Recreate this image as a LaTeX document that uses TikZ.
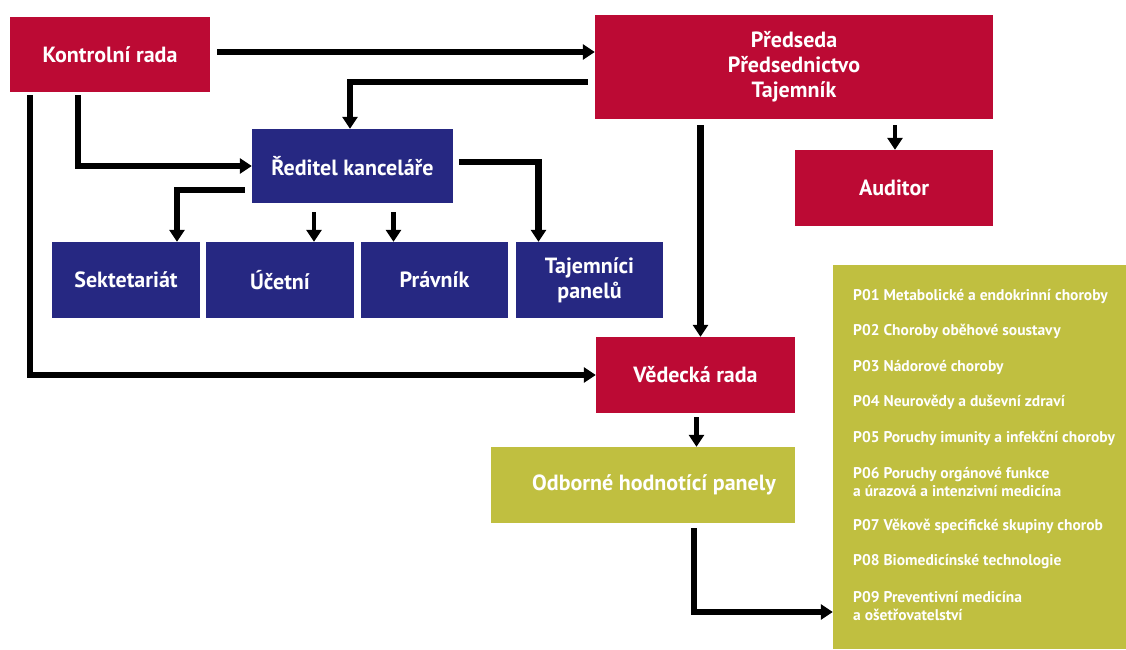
\documentclass[tikz,border=0pt]{standalone}
\usepackage{fontspec}
\setmainfont{PT Sans}
\usetikzlibrary{arrows.meta,calc}
\definecolor{cred}{RGB}{188,10,52}
\definecolor{cblue}{RGB}{38,40,130}
\definecolor{colive}{RGB}{192,191,64}
\begin{document}
\begin{tikzpicture}[x=1pt,y=-1pt,
  box/.style={rectangle,inner sep=0pt,text=white,align=center,
    font=\bfseries\fontsize{22}{25}\selectfont},
  redbox/.style={box,fill=cred},
  bluebox/.style={box,fill=cblue},
  olivebox/.style={box,fill=colive},
  item/.style={anchor=west,inner sep=0pt,text=white,align=left,
    font=\bfseries\fontsize{15.5}{18}\selectfont},
  arr/.style={line width=6.5pt,line join=miter,-{Triangle[length=12pt,width=15pt]}},
  arrs/.style={line width=4.6pt,-{Triangle[length=12pt,width=15pt]}},
]
\useasboundingbox (0,0) rectangle (1126,649);

% boxes
\node[redbox,minimum width=200pt,minimum height=75pt] (kr) at (110,54.5) {Kontrolní rada};
\node[redbox,minimum width=398pt,minimum height=104pt] (pre) at (794,67) {Předseda\\Předsednictvo\\Tajemník};
\node[bluebox,minimum width=201pt,minimum height=74pt] (red) at (352.5,166) {Ředitel kanceláře};
\node[bluebox,minimum width=148pt,minimum height=76pt] (sek) at (126,280) {Sektetariát};
\node[bluebox,minimum width=148pt,minimum height=76pt] (uce) at (280,280) {Účetní};
\node[bluebox,minimum width=147pt,minimum height=76pt] (prv) at (434.5,280) {Právník};
\node[bluebox,minimum width=147pt,minimum height=76pt] (taj) at (589.5,280) {Tajemníci\\panelů};
\node[redbox,minimum width=198pt,minimum height=76pt] (aud) at (894,188) {Auditor};
\node[redbox,minimum width=199pt,minimum height=76pt] (ved) at (695.5,375) {Vědecká rada};
\node[olivebox,minimum width=304pt,minimum height=76pt] (odb) at (643,485) {};
\node[box] (odbt) at (654,485) {Odborné hodnotící panely};
\node[olivebox,minimum width=293pt,minimum height=384pt] (grn) at (979.5,457) {};

% panel list
\node[item] (p1) at (853,296) {P01 Metabolické a endokrinní choroby};
\node[item] (p2) at (853,331.5) {P02 Choroby oběhové soustavy};
\node[item] (p3) at (853,367) {P03 Nádorové choroby};
\node[item] (p4) at (853,402.5) {P04 Neurovědy a duševní zdraví};
\node[item] (p5) at (853,438) {P05 Poruchy imunity a infekční choroby};
\node[item] (p6) at (853,482) {P06 Poruchy orgánové funkce\\a úrazová a intenzivní medicína};
\node[item] (p7) at (853,526.5) {P07 Věkově specifické skupiny chorob};
\node[item] (p8) at (853,562) {P08 Biomedicínské technologie};
\node[item] (p9) at (853,606) {P09 Preventivní medicína\\a ošetřovatelství};

% connectors
\draw[arr] ([xshift=7pt,yshift=2.5pt]kr.east) -- ([yshift=2.5pt]kr.east -| pre.west);
\draw[arr] ([xshift=-7pt,yshift=-15pt]pre.west) -| ([xshift=-2.5pt]red.north);
\draw[arr] ([xshift=-32pt,yshift=-3pt]kr.south) |- (red.west);
\draw[arr] ([xshift=-80pt,yshift=-3pt]kr.south) |- (ved.west);
\draw[arr] ([xshift=-7pt,yshift=-24pt]red.west) -| ([xshift=51pt]sek.north);
\draw[arrs] ([xshift=34pt,yshift=-9pt]red.south -| uce.north) -- ([xshift=34pt]uce.north);
\draw[arrs] ([xshift=-41pt,yshift=-9pt]red.south -| prv.north) -- ([xshift=-41pt]prv.north);
\draw[arr] ([xshift=6pt,yshift=4pt]red.east) -| ([xshift=-51pt]taj.north);
\draw[arr] ([xshift=5pt,yshift=-6pt]pre.south -| ved.north) -- ([xshift=5pt]ved.north);
\draw[arrs] ([xshift=1pt,yshift=-6pt]pre.south -| aud.north) -- ([xshift=1pt]aud.north);
\draw[arrs] ([xshift=1pt,yshift=-4pt]ved.south) -- ([xshift=1pt]ved.south |- odb.north);
\draw[arr] ([xshift=51pt,yshift=-5pt]odb.south) |- ([yshift=-155pt]grn.west);
\end{tikzpicture}
\end{document}
